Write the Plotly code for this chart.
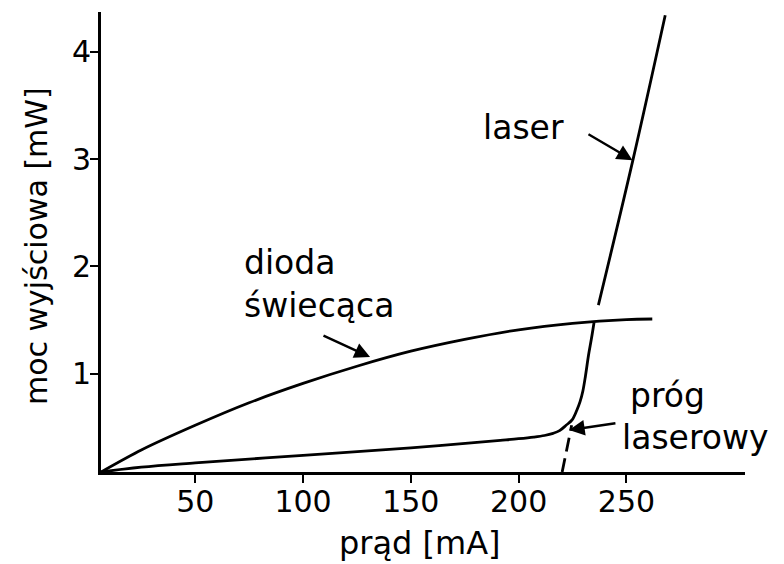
import plotly.graph_objects as go

# ---- data ----
led_x = [6.3, 25, 50, 75, 100, 125, 150, 175, 200, 225, 250, 262]
led_y = [0.085, 0.29, 0.52, 0.73, 0.91, 1.07, 1.21, 1.32, 1.41, 1.47, 1.505, 1.51]

laser_x = [6.3, 25, 50, 100, 150, 191.5, 200, 207, 212, 216, 219, 222, 224.8, 227, 228.5, 229.8, 231, 232.4, 233.8, 235,
           None, 237, 253, 268]
laser_y = [0.085, 0.13, 0.17, 0.24, 0.31, 0.38, 0.395, 0.41, 0.425, 0.445, 0.47, 0.52, 0.57, 0.66, 0.74, 0.84, 0.98, 1.17, 1.33, 1.48,
           None, 1.64, 2.99, 4.34]

threshold_x = [220.2, 224.6]
threshold_y = [0.085, 0.52]

x_ticks = [50, 100, 150, 200, 250]
y_ticks = [1, 2, 3, 4]

x_title = "prąd [mA]"
y_title = "moc wyjściowa [mW]"

FONT = "DejaVu Sans"

fig = go.Figure()
fig.add_trace(go.Scatter(x=led_x, y=led_y, mode="lines", line=dict(color="black", width=2.8, shape="spline", smoothing=0.8), hoverinfo="skip"))
fig.add_trace(go.Scatter(x=laser_x, y=laser_y, mode="lines", line=dict(color="black", width=2.8, shape="spline", smoothing=1.0), hoverinfo="skip", connectgaps=False))
fig.add_trace(go.Scatter(x=threshold_x, y=threshold_y, mode="lines", line=dict(color="black", width=2.8, dash="14px,7px"), hoverinfo="skip"))

labels = [
    dict(text="laser", x=202.2, y=3.29, xanchor="center"),
    dict(text="dioda", x=71.7, y=2.04, xanchor="left"),
    dict(text="świecąca", x=71.7, y=1.64, xanchor="left"),
    dict(text="próg", x=250.7, y=0.80, xanchor="left"),
    dict(text="laserowy", x=247.0, y=0.41, xanchor="left"),
]
annotations = []
for l in labels:
    annotations.append(dict(text=l["text"], x=l["x"], y=l["y"], xref="x", yref="y",
                            xanchor=l["xanchor"], yanchor="middle", showarrow=False,
                            font=dict(family=FONT, size=33, color="black")))

arrows = [
    ((231.7, 3.24), (252.8, 2.99)),
    ((245.6, 0.541), (223.4, 0.476)),
    ((108.8, 1.361), (131.1, 1.156)),
]
for (tx, ty), (hx, hy) in arrows:
    annotations.append(dict(text="", x=hx, y=hy, ax=tx, ay=ty, xref="x", yref="y",
                            axref="x", ayref="y", showarrow=True, arrowhead=2,
                            arrowsize=1.3, arrowwidth=2.4, arrowcolor="black"))

annotations.append(dict(text=x_title, x=0.495, y=-0.154, xref="paper", yref="paper",
                        xanchor="center", yanchor="middle", showarrow=False,
                        font=dict(family=FONT, size=32, color="black")))
annotations.append(dict(text=y_title, x=-0.101, y=0.491, xref="paper", yref="paper",
                        xanchor="center", yanchor="middle", showarrow=False, textangle=-90,
                        font=dict(family=FONT, size=30, color="black")))

# page body has an 8px default margin, so the figure is offset by (8, 8)
fig.update_layout(
    width=776, height=556,
    margin=dict(l=93, r=39, t=4, b=92),
    plot_bgcolor="white", paper_bgcolor="white",
    showlegend=False,
    annotations=annotations,
    xaxis=dict(range=[6.3, 305], tickvals=x_ticks, ticktext=[str(v) for v in x_ticks],
               showgrid=False, zeroline=False, showline=True, linecolor="black", linewidth=3,
               ticks="outside", ticklen=8, tickwidth=2, tickcolor="black", ticklabelstandoff=-7,
               tickfont=dict(family=FONT, size=30, color="black")),
    yaxis=dict(range=[0.085, 4.37], tickvals=y_ticks, ticktext=[str(v) for v in y_ticks],
               showgrid=False, zeroline=False, showline=True, linecolor="black", linewidth=3,
               ticks="outside", ticklen=8, tickwidth=2, tickcolor="black", ticklabelstandoff=-7,
               tickfont=dict(family=FONT, size=30, color="black")),
)

fig.write_html("out.html")
